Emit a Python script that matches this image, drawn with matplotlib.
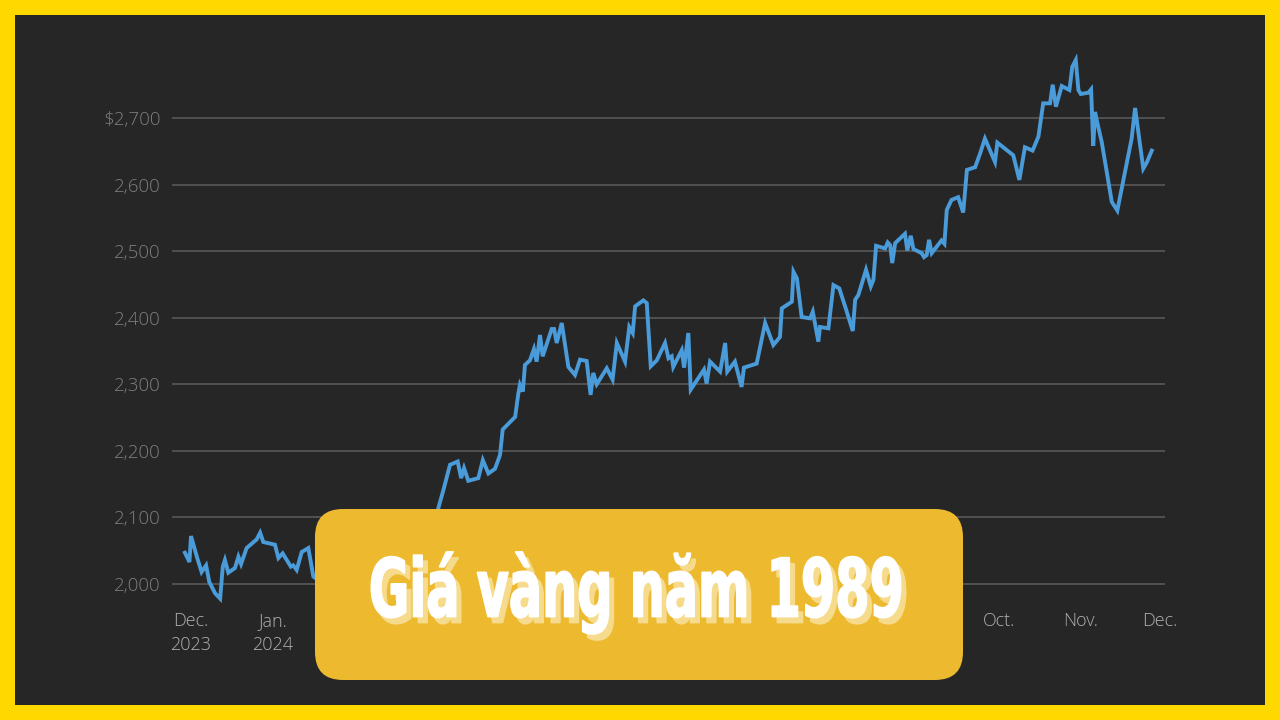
import matplotlib
matplotlib.use('Agg')
import matplotlib.pyplot as plt
from matplotlib.patches import Rectangle, FancyBboxPatch
from matplotlib.transforms import Affine2D
from matplotlib.colors import to_rgba
import matplotlib.patheffects as pe

# days since 2023-12-01, gold price (USD/oz)
days = [-2.3, -0.6, 0.0, 2.2, 4.0, 5.7, 6.9, 9.1, 11.0, 12.0, 12.8, 14.1, 16.6, 17.9, 18.9,
        21.0, 24.8, 26.1, 27.3, 31.7, 33.0, 34.6, 37.7, 38.6, 39.9, 41.8, 44.3, 46.2,
        48.0, 50.6, 53.2, 56.3, 60.0, 63.1, 66.1, 69.5, 73.3, 77.0, 80.8, 84.6, 88.4, 91.0,
        93.4, 95.3, 97.8, 100.7, 102.0, 103.1, 104.7, 108.5, 110.2, 112.3, 114.8, 116.7,
        117.7, 122.4, 123.6, 124.2, 125.3, 126.1, 128.0, 129.5, 130.5, 131.8, 132.8, 136.2,
        137.1, 138.1, 140.0, 142.5, 145.0, 146.9, 149.4, 150.9, 151.9, 153.2, 157.0, 159.2,
        160.8, 163.9, 165.5, 166.8, 167.7, 170.8, 172.1, 173.6, 175.9, 179.0, 180.3, 181.5,
        182.1, 185.3, 186.2, 187.8, 188.7, 193.7, 194.7, 196.0, 199.8, 201.7, 202.5, 205.4,
        207.9, 208.8, 213.6, 214.9, 216.8, 219.9, 222.4, 223.1, 226.9, 227.5, 228.8, 230.6,
        233.8, 234.8, 236.9, 237.5, 240.7, 242.6, 244.8, 247.4, 249.9, 250.8, 252.0, 254.9,
        256.7, 257.7, 258.7, 262.1, 263.1, 264.0, 264.8, 265.9, 269.6, 270.5, 271.8, 272.8,
        275.9, 276.8, 277.8, 278.7, 279.7, 283.4, 284.5, 285.4, 287.2, 289.7, 291.6, 293.0,
        296.1, 298.0, 299.8, 303.6, 304.5, 310.5, 312.8, 314.9, 317.8, 320.0, 321.8, 324.4,
        325.4, 326.6, 328.8, 331.7, 332.8, 334.1, 335.1, 336.0, 338.9, 339.9, 340.7, 341.4,
        342.0, 343.9, 347.7, 349.8, 355.2, 356.5, 359.6, 360.9, 362.8]
price = [2047, 2033, 2072, 2041, 2018, 2028, 2003, 1986, 1978, 2026, 2036, 2017, 2024, 2041, 2030,
         2054, 2067, 2077, 2063, 2059, 2039, 2046, 2026, 2028, 2021, 2048, 2054, 2011,
         2006, 2021, 2036, 2018, 1991, 1980, 1998, 2009, 2021, 2013, 2027, 2036, 2044, 2081,
         2114, 2141, 2179, 2184, 2159, 2174, 2155, 2159, 2186, 2166, 2173, 2194,
         2232, 2251, 2286, 2299, 2289, 2329, 2336, 2353, 2334, 2374, 2342, 2383,
         2383, 2362, 2392, 2326, 2314, 2337, 2335, 2284, 2317, 2300, 2324, 2307,
         2362, 2334, 2386, 2377, 2417, 2426, 2422, 2327, 2336, 2362, 2339, 2342,
         2326, 2351, 2325, 2377, 2292, 2322, 2301, 2334, 2319, 2362, 2319, 2334,
         2296, 2325, 2331, 2356, 2392, 2359, 2371, 2414, 2424, 2469, 2459, 2401,
         2399, 2409, 2364, 2386, 2384, 2449, 2444, 2412, 2380, 2427, 2434, 2472,
         2447, 2457, 2508, 2504, 2513, 2509, 2482, 2512, 2526, 2501, 2523, 2503,
         2497, 2491, 2494, 2517, 2497, 2516, 2511, 2562, 2577, 2581, 2558, 2622,
         2626, 2647, 2669, 2634, 2663, 2644, 2607, 2656, 2651, 2672, 2722, 2722,
         2750, 2717, 2748, 2742, 2777, 2787, 2742, 2736, 2738, 2743, 2658, 2709,
         2697, 2664, 2574, 2561, 2669, 2715, 2624, 2633, 2651]

# month starts; labels under the banner are covered in the original, so left blank
month_days = [0, 31, 62, 91, 122, 152, 183, 213, 244, 275, 305, 336, 366]
month_labels = ['Dec.\n2023', 'Jan.\n2024', '', '', '', '', '', '', '', '',
                'Oct.', 'Nov.', 'Dec.']
y_ticks = [2000, 2100, 2200, 2300, 2400, 2500, 2600, 2700]
y_labels = ['2,000', '2,100', '2,200', '2,300', '2,400', '2,500', '2,600', '$2,700']
title = 'Giá vàng năm 1989'


class Stretch(pe.AbstractPathEffect):
    # stretch glyphs vertically around (cx, cy) in display px, with optional offset/colour
    def __init__(self, cx, cy, sy, offset=(0, 0), color=None, stroke=0):
        super().__init__()
        self.cx, self.cy, self.sy, self.off = cx, cy, sy, offset
        self.color = to_rgba(color) if color is not None else None
        self.stroke = stroke

    def draw_path(self, renderer, gc, tpath, affine, rgbFace=None):
        t = affine + Affine2D().translate(-self.cx, -self.cy).scale(1, self.sy) \
            .translate(self.cx + self.off[0], self.cy + self.off[1])
        face = self.color if self.color is not None else rgbFace
        gc0 = renderer.new_gc()
        gc0.copy_properties(gc)
        if self.stroke:
            gc0.set_linewidth(self.stroke)
            gc0.set_foreground(face)
            gc0.set_joinstyle('round')
        renderer.draw_path(gc0, tpath, t, face)
        gc0.restore()


W, H = 1280, 720
fig = plt.figure(figsize=(W / 100, H / 100), dpi=100, facecolor='#FFD800')

# dark panel behind the chart
bg = fig.add_axes([0, 0, 1, 1], zorder=0)
bg.set_xlim(0, W)
bg.set_ylim(H, 0)
bg.axis('off')
bg.add_patch(Rectangle((15, 15), 1250, 690, facecolor='#262626', edgecolor='none'))

# chart
ax = fig.add_axes([172 / W, 1 - 610.6 / H, (1165 - 172) / W, (610.6 - 51.4) / H], zorder=1)
ax.set_facecolor('none')
ax.plot(days, price, color='#4A9BDA', lw=2.8, solid_joinstyle='miter', zorder=3)
ax.set_xlim(-7.18, 367.8)
ax.set_ylim(1960, 2800)
ax.set_yticks(y_ticks)
ax.set_yticklabels(y_labels)
ax.set_xticks(month_days)
ax.set_xticklabels(month_labels, linespacing=1.45)
for s in ax.spines.values():
    s.set_visible(False)
ax.grid(axis='y', color='#585858', lw=1.2)
ax.tick_params(axis='y', length=0, pad=8, labelsize=13.5, labelcolor='#7e7e7e')
ax.tick_params(axis='x', length=0, pad=1, labelsize=13, labelcolor='#b0b0b0')
for lab in ax.get_xticklabels() + ax.get_yticklabels():
    lab.set_family(['Open Sans', 'DejaVu Sans'])
    lab.set_fontweight('light')

# title banner
ov = fig.add_axes([0, 0, 1, 1], zorder=2)
ov.set_xlim(0, W)
ov.set_ylim(H, 0)
ov.axis('off')
ov.add_patch(FancyBboxPatch((315, 509), 648, 171,
                            boxstyle='round,pad=0,rounding_size=28',
                            facecolor='#EDB92E', edgecolor='none'))
cx, cy = 636, 592
ov.text(cx, cy, title, ha='center', va='center', color='white',
        fontsize=35.5, fontweight='bold', family=['DejaVu Sans'],
        path_effects=[Stretch(cx, H - cy, 1.64, offset=(5, -6), color='#F6DB8C', stroke=1.2),
                      Stretch(cx, H - cy, 1.64, stroke=1.2)])

fig.savefig('out.png', dpi=100, facecolor=fig.get_facecolor())
